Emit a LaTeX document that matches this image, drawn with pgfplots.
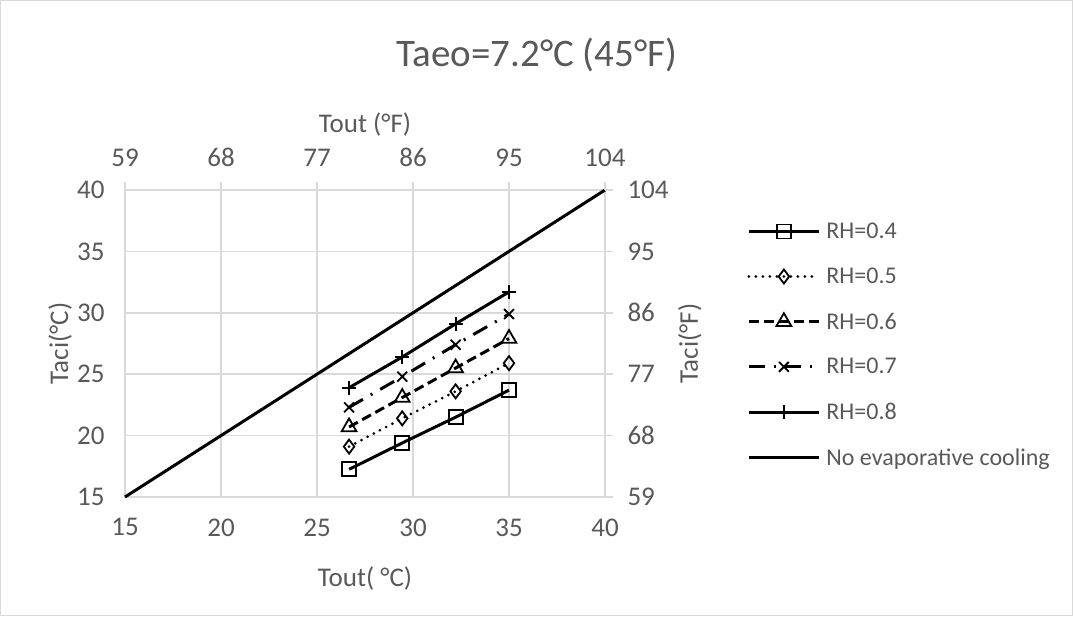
\documentclass[border=0pt]{standalone}
\usepackage{fontspec}
\setmainfont{Carlito}
\usepackage{pgfplots}
\pgfplotsset{compat=1.18}
\definecolor{txt}{HTML}{595959}
\definecolor{grd}{HTML}{D9D9D9}
\begin{document}
\begin{tikzpicture}
\pgfplotsset{
  base/.style={scale only axis, width=480pt, height=307pt, at={(0,0)}, anchor=south west,
    /pgf/number format/assume math mode=true,
    ticklabel style={text=txt, font=\fontsize{27}{32}\selectfont},
    label style={text=txt, font=\fontsize{27}{32}\selectfont},
    clip=false},
}
\useasboundingbox (-125pt,-120pt) rectangle (948pt,497pt);
\draw[grd, line width=1pt] (-124pt,-119pt) rectangle (947pt,496pt);
\node[font=\fontsize{39}{46}\selectfont, text=txt] at (412pt,442pt) {Taeo=7.2°C (45°F)};
\begin{axis}[base,
  xmin=15, xmax=40, ymin=15, ymax=40,
  xtick={15,20,...,40}, ytick={15,20,...,40},
  grid=major, major grid style={grd, line width=1.5pt},
  axis line style={grd, line width=1.5pt},
  major tick length=0pt, tick style={draw=none},
  xticklabel style={yshift=-18pt},
  yticklabel style={xshift=-17pt},
  xlabel={Tout( °C)}, ylabel={Taci(°C)},
  xlabel style={at={(axis description cs:0.5,-0.264)}, anchor=center},
  ylabel style={at={(axis description cs:-0.135,0.5)}, anchor=center},
  legend style={draw=none, fill=none, at={(axis description cs:1.29,0.906)}, anchor=north west,
    font=\fontsize{24}{29}\selectfont, text=txt, row sep=23.8pt, column sep=4pt},
  legend cell align=left,
  legend image code/.code={\draw[mark repeat=2,mark phase=2] plot coordinates {(0pt,0pt) (35pt,0pt) (70pt,0pt)};},
]
\addplot[black, line width=3pt, mark=square, mark size=7pt, mark options={solid, line width=1.8pt}]
  coordinates {(26.67,17.25)(29.44,19.4)(32.22,21.5)(35,23.7)};
\addlegendentry{RH=0.4}
\addplot[black, line width=3pt, line cap=round, dash pattern=on 0pt off 7pt, mark=diamond, mark size=7pt, mark options={solid, line width=1.8pt}]
  coordinates {(26.67,19.1)(29.44,21.4)(32.22,23.6)(35,25.9)};
\addlegendentry{RH=0.5}
\addplot[black, line width=3pt, dash pattern=on 10pt off 5pt, mark=triangle, mark size=8.5pt, mark options={solid, line width=1.8pt}]
  coordinates {(26.67,20.7)(29.44,23.1)(32.22,25.5)(35,27.9)};
\addlegendentry{RH=0.6}
\addplot[black, line width=3pt, dash pattern=on 16pt off 9pt on 2pt off 9pt, mark=x, mark size=7pt, mark options={solid, line width=1.8pt}]
  coordinates {(26.67,22.3)(29.44,24.8)(32.22,27.4)(35,29.9)};
\addlegendentry{RH=0.7}
\addplot[black, line width=3pt, mark=+, mark size=7pt, mark options={solid, line width=1.8pt}]
  coordinates {(26.67,23.9)(29.44,26.4)(32.22,29.1)(35,31.7)};
\addlegendentry{RH=0.8}
\addplot[black, line width=3pt] coordinates {(15,15)(40,40)};
\addlegendentry{No evaporative cooling}
\end{axis}
\begin{axis}[base,
  xmin=59, xmax=104, ymin=59, ymax=104,
  xtick={59,68,...,104}, ytick={59,68,...,104},
  axis x line*=top, axis y line*=right,
  axis line style={draw=none},
  tick style={grd, line width=1.5pt}, major tick length=8pt, tick align=outside,
  xticklabel style={yshift=12pt},
  yticklabel style={xshift=11pt},
  xlabel={Tout (°F)}, ylabel={Taci(°F)},
  xlabel style={at={(axis description cs:0.5,1.212)}, anchor=center},
  ylabel style={at={(axis description cs:1.177,0.5)}, anchor=center, rotate=0},
]
\addplot[draw=none] coordinates {(59,59)};
\end{axis}
\end{tikzpicture}
\end{document}
